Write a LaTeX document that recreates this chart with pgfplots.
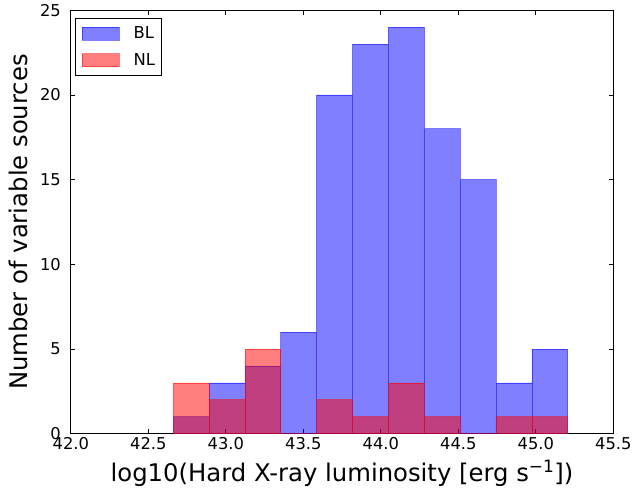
\documentclass[border=0pt]{standalone}
\usepackage{fontspec}
\setmainfont{DejaVu Sans}
\usepackage{pgfplots}
\pgfplotsset{compat=1.18}
\begin{document}
\begin{tikzpicture}
\begin{axis}[
  name=ax,
  scale only axis,
  width=542.5pt, height=423.4pt,
  xmin=42, xmax=45.5, ymin=0, ymax=25,
  xtick={42,42.5,43,43.5,44,44.5,45,45.5},
  ytick={0,5,10,15,20,25},
  tick align=inside,
  major tick length=4.5pt,
  minor tick num=0,
  axis line style={line width=0.9pt},
  tick style={line width=0.8pt, black},
  /pgf/number format/assume math mode=true,
  tick label style={font=\fontsize{16.3}{16.3}\selectfont, inner sep=0pt},
  xticklabel style={anchor=base, yshift=-16.3pt, /pgf/number format/.cd, fixed, fixed zerofill, precision=1},
  yticklabel style={anchor=east, xshift=-9.8pt, /pgf/number format/.cd, fixed, precision=0},
  label style={font=\fontsize{24.3}{24.3}\selectfont},
  xlabel={log10(Hard X-ray luminosity [erg s\textsuperscript{−1}])},
  ylabel={Number of variable sources},
  xlabel style={at={(axis description cs:0.5,-0.1122)}, anchor=base},
  ylabel style={at={(axis description cs:-0.08074,0.5)}, anchor=base},
  legend style={at={(axis description cs:0.0077,0.9818)}, anchor=north west, draw=black, line width=0.6pt,
    font=\fontsize{16.4}{16.4}\selectfont, inner xsep=6.7pt, inner ysep=8.5pt,
    nodes={inner sep=0pt}, column sep=14pt, row sep=12.7pt},
  legend cell align=left,
  legend image code/.code={\fill[#1] (0pt,-6.5pt) rectangle (37pt,6.5pt);},
]
\addplot[ybar interval, fill=blue, fill opacity=0.5, draw=blue, draw opacity=0.5, line width=0.7pt]
coordinates {
(42.661,1) (42.892,3) (43.124,4) (43.355,6) (43.586,20) (43.818,23)
(44.049,24) (44.281,18) (44.512,15) (44.743,3) (44.975,5) (45.206,5)
};
\addlegendentry{BL}
\addplot[ybar interval, fill=red, fill opacity=0.5, draw=red, draw opacity=0.5, line width=0.7pt]
coordinates {
(42.661,3) (42.892,2) (43.124,5) (43.355,0) (43.586,2) (43.818,1)
(44.049,3) (44.281,1) (44.512,0) (44.743,1) (44.975,1) (45.206,1)
};
\addlegendentry{NL}
\end{axis}
\pgfresetboundingbox
\path[use as bounding box] ([xshift=-70.8pt,yshift=-54.3pt]ax.south west) rectangle ([xshift=19.7pt,yshift=10.3pt]ax.north east);
\end{tikzpicture}
\end{document}
